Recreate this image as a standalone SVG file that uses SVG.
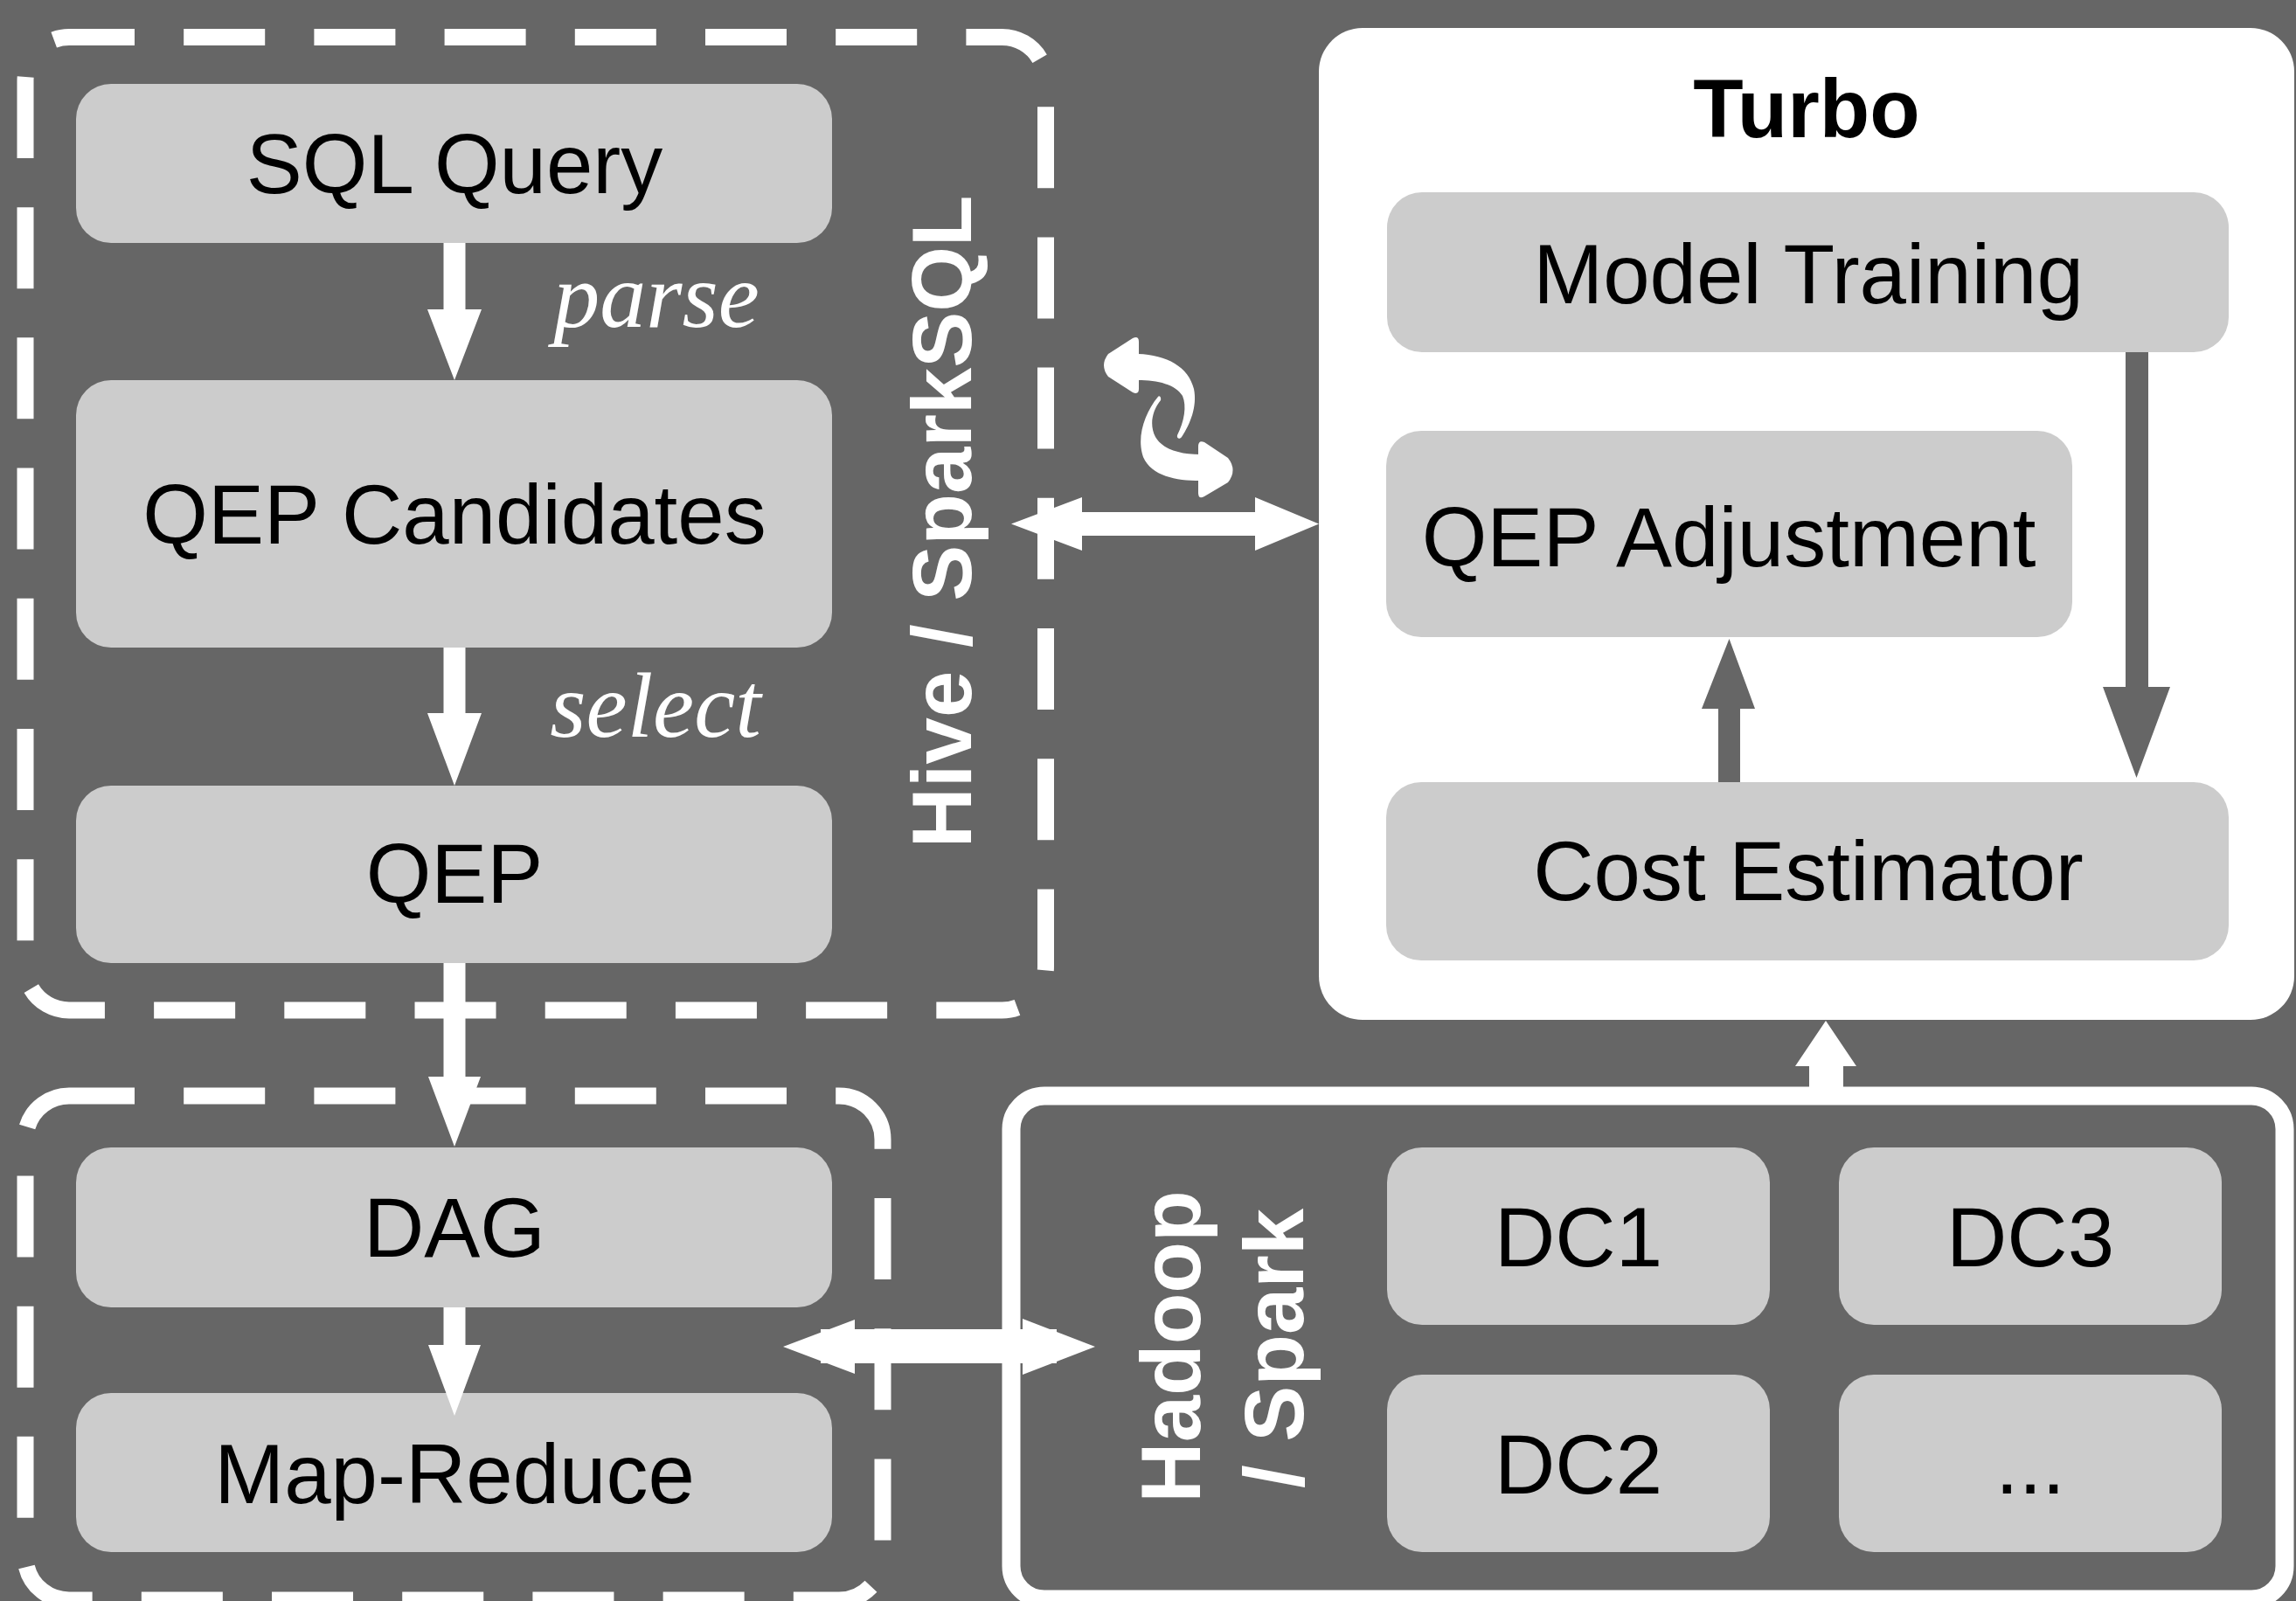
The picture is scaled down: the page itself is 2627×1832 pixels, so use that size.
<svg xmlns="http://www.w3.org/2000/svg" width="2627" height="1832" viewBox="0 0 2627 1832">
<style>
.box{fill:#cccccc}
.t{font-family:"Liberation Sans",Arial,Helvetica,sans-serif;font-size:96px;fill:#000;text-anchor:middle}
.tb{font-family:"Liberation Sans",Arial,Helvetica,sans-serif;font-weight:bold;font-size:94px;fill:#000;text-anchor:middle}
.vt{font-family:"Liberation Sans",Arial,Helvetica,sans-serif;font-weight:bold;font-size:96px;fill:#fff;text-anchor:middle}
.lbl{font-family:"Liberation Serif","Times New Roman",serif;font-style:italic;font-size:106px;fill:#fff;text-anchor:middle}
.dash{fill:none;stroke:#fff;stroke-width:19;stroke-dasharray:93 56.2;stroke-dashoffset:18}
.wa{fill:#fff}
.ga{fill:#666666}
</style>
<rect x="0" y="0" width="2627" height="1832" fill="#666666"/>

<g id="hive-sparksql">
<rect class="dash" x="29" y="42.5" width="1167.5" height="1113.5" rx="50"/>
<text class="vt" transform="translate(1111,597) rotate(-90)">Hive / SparkSQL</text>
</g>

<g id="execution-engine">
<rect class="dash" x="29" y="1254" width="981" height="577" rx="50"/>
</g>

<g id="sql-query">
<rect class="box" x="87" y="96" width="865" height="182" rx="40"/>
<text class="t" x="520" y="221">SQL Query</text>
</g>
<g id="qep-candidates">
<rect class="box" x="87" y="435" width="865" height="306" rx="40"/>
<text class="t" x="520" y="622">QEP Candidates</text>
</g>
<g id="qep">
<rect class="box" x="87" y="899" width="865" height="203" rx="40"/>
<text class="t" x="520" y="1033">QEP</text>
</g>
<g id="dag">
<rect class="box" x="87" y="1313" width="865" height="183" rx="40"/>
<text class="t" x="520" y="1438">DAG</text>
</g>
<g id="map-reduce">
<rect class="box" x="87" y="1594" width="865" height="182" rx="40"/>
<text class="t" x="520" y="1720">Map-Reduce</text>
</g>

<g id="turbo">
<rect x="1509" y="32" width="1116" height="1135" rx="50" fill="#fff"/>
<text class="tb" x="2067" y="157">Turbo</text>
</g>
<g id="model-training">
<rect class="box" x="1587" y="220" width="963" height="183" rx="40"/>
<text class="t" x="2069" y="347">Model Training</text>
</g>
<g id="qep-adjustment">
<rect class="box" x="1586" y="493" width="785" height="236" rx="40"/>
<text class="t" x="1978" y="648">QEP Adjustment</text>
</g>
<g id="cost-estimator">
<rect class="box" x="1586" y="895" width="964" height="204" rx="40"/>
<text class="t" x="2069" y="1030">Cost Estimator</text>
</g>

<g id="hadoop-spark">
<rect x="1157" y="1254" width="1457" height="576" rx="38" fill="none" stroke="#fff" stroke-width="21"/>
<text class="vt" transform="translate(1373,1541) rotate(-90)">Hadoop</text>
<text class="vt" transform="translate(1491,1543) rotate(-90)">/ Spark</text>
</g>
<g id="dc1">
<rect class="box" x="1587" y="1313" width="438" height="203" rx="40"/>
<text class="t" x="1806" y="1449">DC1</text>
</g>
<g id="dc3">
<rect class="box" x="2104" y="1313" width="438" height="203" rx="40"/>
<text class="t" x="2323" y="1449">DC3</text>
</g>
<g id="dc2">
<rect class="box" x="1587" y="1573" width="438" height="203" rx="40"/>
<text class="t" x="1806" y="1709">DC2</text>
</g>
<g id="dc-more">
<rect class="box" x="2104" y="1573" width="438" height="203" rx="40"/>
<text class="t" x="2323" y="1709">...</text>
</g>

<g id="connectors">
<path class="wa" d="M507.5,278 H532.5 V354 H551 L520,435 L489,354 H507.5 Z"/>
<path class="wa" d="M507.5,741 H532.5 V816 H551 L520,899 L489,816 H507.5 Z"/>
<path class="wa" d="M507.5,1102 H532.5 V1232 H550 L520,1312 L490,1232 H507.5 Z"/>
<path class="wa" d="M507.5,1496 H532.5 V1539 H550 L520,1620 L490,1539 H507.5 Z"/>
<text class="lbl" x="751" y="374">parse</text>
<text class="lbl" x="750" y="843">select</text>
<path class="ga" d="M2432,403 H2458 V786 H2483 L2444.5,890 L2406,786 H2432 Z"/>
<path class="ga" d="M1966,895 V811 H1947 L1978.5,731 L2008,811 H1991 V895 Z"/>
<path class="wa" d="M2070,1250 V1220 H2054 L2089,1168 L2124,1220 H2109 V1250 Z"/>
<path class="wa" d="M1157,599.5 L1238,569 V586 H1436 V569 L1509,599.5 L1436,630 V613 H1238 V630 Z"/>
<rect class="wa" x="939" y="1521" width="270" height="39"/>
<path class="wa" d="M896,1541 L978,1510 V1572 Z"/>
<path class="wa" d="M1253,1541 L1170,1509 V1573 Z"/>
<g id="cycle-icon">
<path class="wa" d="M1302,405 C1335,406 1360,420 1366,445 C1370,465 1362,485 1352,500 C1350,503 1346,502 1347,498 C1355,482 1358,465 1353,453 C1345,440 1325,435 1302,435 Z"/>
<path class="wa" d="M1303,391 Q1303,384 1296,387 L1268,405 Q1258,418 1268,431 L1296,449 Q1303,452 1303,445 Z"/>
<path class="wa" d="M1325,454 C1310,472 1300,500 1308,523 C1318,545 1345,550 1373,550 L1373,520 C1350,520 1330,514 1322,500 C1315,487 1318,470 1328,458 C1329,454 1326,452 1325,454 Z"/>
<path class="wa" d="M1371,511 Q1371,503 1378,506 L1405,524 Q1416,538 1405,552 L1378,568 Q1371,572 1371,564 Z"/>
</g>
</g>
</svg>
